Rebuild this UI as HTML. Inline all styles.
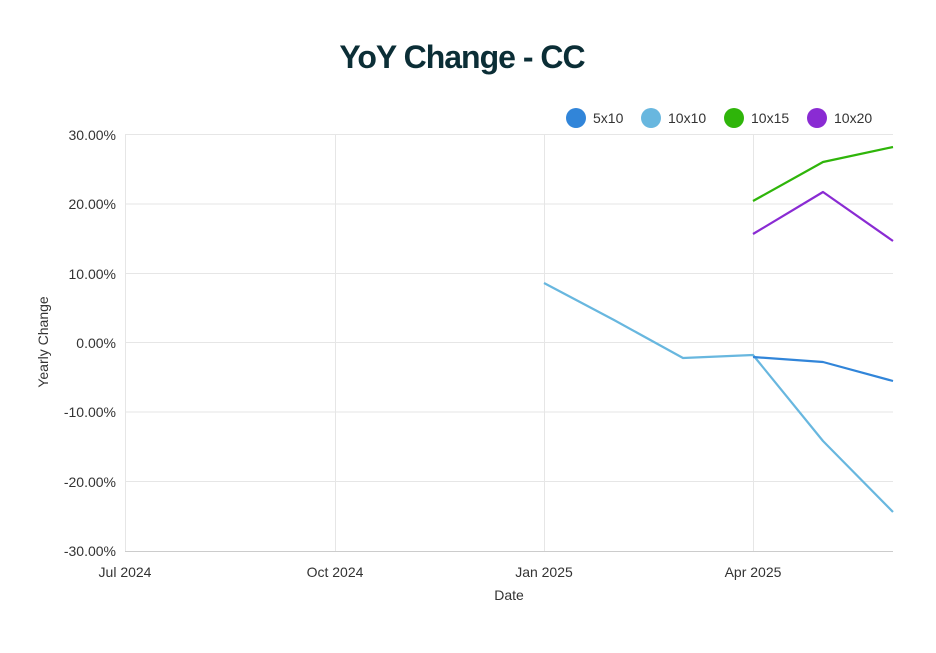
<!DOCTYPE html>
<html><head><style>
body{margin:0;background:#fff;width:936px;height:648px;overflow:hidden;font-family:"Liberation Sans",sans-serif}
</style></head><body>
<svg width="936" height="648" xmlns="http://www.w3.org/2000/svg" font-family="Liberation Sans, sans-serif">
<rect width="936" height="648" fill="#fff"/>
<text x="462" y="68" text-anchor="middle" font-size="32" font-weight="900" fill="#0b2e36" letter-spacing="-1">YoY Change - CC</text>
<g font-size="14" fill="#333">
<circle cx="576" cy="118" r="10" fill="#3185d9"/><text x="593" y="123">5x10</text>
<circle cx="651" cy="118" r="10" fill="#68b7df"/><text x="668" y="123">10x10</text>
<circle cx="734" cy="118" r="10" fill="#2fb50a"/><text x="751" y="123">10x15</text>
<circle cx="817" cy="118" r="10" fill="#8a2bd3"/><text x="834" y="123">10x20</text>
</g>
<g stroke="#e6e6e6" stroke-width="1">
<line x1="125" y1="134.5" x2="893" y2="134.5"/>
<line x1="125" y1="204" x2="893" y2="204"/>
<line x1="125" y1="273.5" x2="893" y2="273.5"/>
<line x1="125" y1="342.5" x2="893" y2="342.5"/>
<line x1="125" y1="412" x2="893" y2="412"/>
<line x1="125" y1="481.5" x2="893" y2="481.5"/>
<line x1="125.5" y1="134" x2="125.5" y2="551"/>
<line x1="335.5" y1="134" x2="335.5" y2="551"/>
<line x1="544.5" y1="134" x2="544.5" y2="551"/>
<line x1="753.5" y1="134" x2="753.5" y2="551"/>
</g>
<line x1="125" y1="551.5" x2="893" y2="551.5" stroke="#ccc"/>
<g font-size="14" fill="#333" text-anchor="end">
<text x="116" y="140">30.00%</text><text x="116" y="209">20.00%</text><text x="116" y="279">10.00%</text>
<text x="116" y="348">0.00%</text><text x="116" y="417">-10.00%</text><text x="116" y="487">-20.00%</text><text x="116" y="556">-30.00%</text>
</g>
<g font-size="14" fill="#333" text-anchor="middle">
<text x="125" y="577">Jul 2024</text><text x="335" y="577">Oct 2024</text><text x="544" y="577">Jan 2025</text><text x="753" y="577">Apr 2025</text>
<text x="509" y="600">Date</text>
</g>
<text transform="translate(48,342) rotate(-90)" font-size="14" fill="#333" text-anchor="middle">Yearly Change</text>
<g fill="none" stroke-width="2.2" stroke-linejoin="round">
<polyline stroke="#68b7df" points="544,283 614,320 683,358 753,355 823,441 893,512"/>
<polyline stroke="#3185d9" points="753,357 823,362 893,381"/>
<polyline stroke="#2fb50a" points="753,201 823,162 893,147"/>
<polyline stroke="#8a2bd3" points="753,234 823,192 893,241"/>
</g>
</svg>
</body></html>
